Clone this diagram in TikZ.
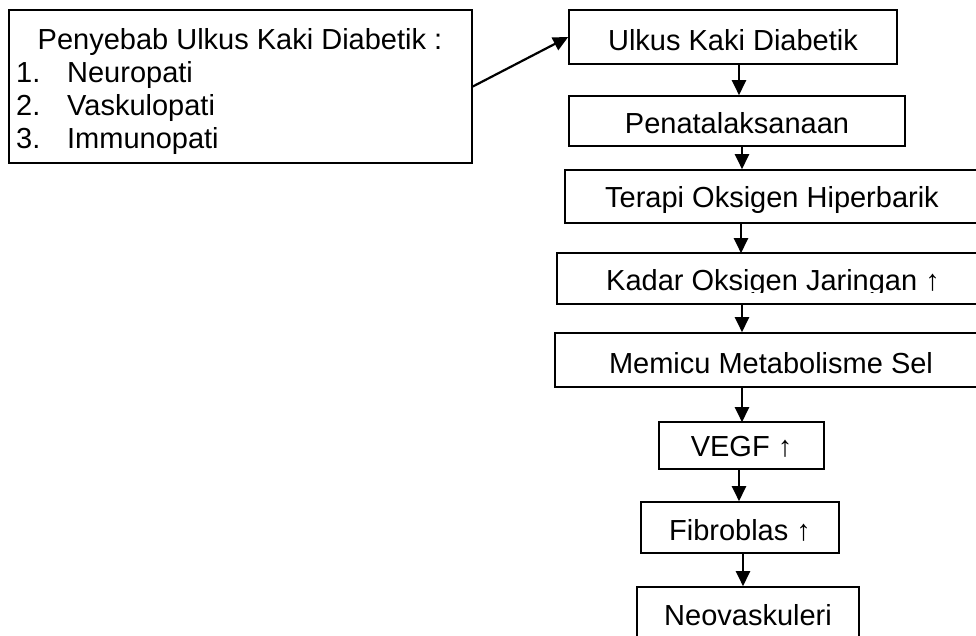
\documentclass[tikz,border=0pt]{standalone}
\usepackage{fontspec}
\setmainfont{Liberation Sans}
\usetikzlibrary{arrows.meta}
\newcommand\boxfont{\fontsize{29}{33}\selectfont}
\begin{document}
\begin{tikzpicture}[x=1pt,y=-1pt,
  box/.style={draw, line width=1.6pt, inner sep=0pt, anchor=center, text depth=0pt, font=\boxfont},
  txt/.style={inner sep=0pt, font=\boxfont},
  flow/.style={line width=2.2pt, -{Triangle[length=15pt,width=14pt]}}]
\clip (0,0) rectangle (976,635);
\fill[white] (0,0) rectangle (976,635);
% left box
\node[box, minimum width=463pt, minimum height=153pt] (causes) at (240.5,86.5) {};
\node[txt, anchor=base] (title) at (240,49) {Penyebab Ulkus Kaki Diabetik :};
\node[txt, anchor=base west] (item1) at (16,82) {\makebox[51pt][l]{1.}Neuropati};
\node[txt, anchor=base west] (item2) at (16,115) {\makebox[51pt][l]{2.}Vaskulopati};
\node[txt, anchor=base west] (item3) at (16,148) {\makebox[51pt][l]{3.}Immunopati};
% flow boxes
\node[box, minimum width=328pt, minimum height=54pt, text height=26pt] (ulkus) at (733,37) {Ulkus Kaki Diabetik};
\node[box, minimum width=336pt, minimum height=50pt, text height=24pt] (penata) at (737,121) {Penatalaksanaan};
\node[box, minimum width=414pt, minimum height=53pt, text height=21pt] (terapi) at (772,196.5) {Terapi Oksigen Hiperbarik};
\begin{scope}
\clip (500,240) rectangle (1000,292.5);
\node[box, draw=none, minimum width=430pt, minimum height=49pt, text height=23pt] (kadar) at (773,278.5) {Kadar Oksigen Jaringan ↑};
\end{scope}
\draw[line width=1.6pt] (kadar.north west) rectangle (kadar.south east);
\node[box, minimum width=432pt, minimum height=54pt, text height=26pt] (memicu) at (771,360) {Memicu Metabolisme Sel};
\begin{scope}
\clip (600,410) rectangle (900,457);
\node[box, draw=none, minimum width=163pt, minimum height=45pt, text height=22pt] (vegf) at (741.5,445.5) {VEGF ↑};
\end{scope}
\draw[line width=1.6pt] (vegf.north west) rectangle (vegf.south east);
\node[box, minimum width=198pt, minimum height=51pt, text height=25pt] (fibro) at (740,527.5) {Fibroblas ↑};
\node[box, minimum width=222pt, minimum height=56pt, text height=20.8pt] (neo) at (748,615) {Neovaskuleri};
% connectors
\draw[flow] (causes.east) -- (ulkus.west);
\coordinate (a1) at (739,0);
\coordinate (a2) at (742,0);
\coordinate (a3) at (741,0);
\coordinate (a4) at (742,0);
\coordinate (a5) at (742,0);
\coordinate (a6) at (739,0);
\coordinate (a7) at (743,0);
\draw[flow] (ulkus.south -| a1) -- (penata.north -| a1);
\draw[flow] (penata.south -| a2) -- (terapi.north -| a2);
\draw[flow] (terapi.south -| a3) -- (kadar.north -| a3);
\draw[flow] (kadar.south -| a4) -- (memicu.north -| a4);
\draw[flow] (memicu.south -| a5) -- (vegf.north -| a5);
\draw[flow] (vegf.south -| a6) -- (fibro.north -| a6);
\draw[flow] (fibro.south -| a7) -- (neo.north -| a7);
\end{tikzpicture}
\end{document}
